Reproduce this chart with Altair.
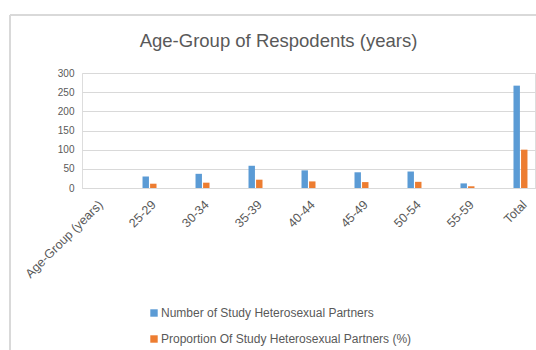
import altair as alt
import pandas as pd

categories = ["Age-Group (years)", "25-29", "30-34", "35-39", "40-44", "45-49", "50-54", "55-59", "Total"]
data_categories = ["25-29", "30-34", "35-39", "40-44", "45-49", "50-54", "55-59", "Total"]
number_partners = [30, 37, 58, 46, 41, 43, 12, 267]
proportion_partners = [11.2, 13.9, 21.7, 17.2, 15.4, 16.1, 4.5, 100]
series_names = ["Number of Study Heterosexual Partners", "Proportion Of Study Heterosexual Partners (%)"]
series_colors = ["#5B9BD5", "#ED7D31"]
y_ticks = [0, 50, 100, 150, 200, 250, 300]

rows = []
for c, n, p in zip(data_categories, number_partners, proportion_partners):
    rows.append({"cat": c, "series": series_names[0], "value": n})
    rows.append({"cat": c, "series": series_names[1], "value": p})
df = pd.DataFrame(rows)

FONT = "Liberation Sans"
GRAY = "#595959"
FRAME = "#d9d9d9"

bars = alt.Chart(df).mark_bar().encode(
    x=alt.X("cat:N", sort=categories,
            scale=alt.Scale(domain=categories, paddingInner=0.736, paddingOuter=0.142),
            axis=alt.Axis(title=None, labelAngle=-45, labelColor=GRAY, labelFont=FONT,
                          labelFontSize=12.5, ticks=False, domain=True, domainColor="#d9d9d9",
                          labelPadding=10, grid=False)),
    xOffset=alt.XOffset("series:N", sort=series_names,
                        scale=alt.Scale(paddingInner=0.15)),
    y=alt.Y("value:Q",
            scale=alt.Scale(domain=[0, 300], nice=False),
            axis=alt.Axis(title=None, values=y_ticks, labelColor=GRAY, labelFont=FONT,
                          labelFontSize=10, ticks=False, domain=False, labelPadding=8,
                          gridColor="#d9d9d9", gridWidth=1)),
    color=alt.Color("series:N", sort=series_names,
                    scale=alt.Scale(domain=series_names, range=series_colors),
                    legend=alt.Legend(title=None, orient="none", legendX=66, legendY=234,
                                      direction="vertical", symbolType="square",
                                      symbolSize=55, labelFont=FONT, labelFontSize=12,
                                      labelColor=GRAY, rowPadding=14, labelOffset=1,
                                      labelLimit=0, symbolStrokeWidth=0)),
)

frame_df = pd.DataFrame({"k": [0]})
frame_v = alt.Chart(frame_df).mark_rule(color=FRAME, strokeWidth=2).encode(
    x=alt.value(-72), y=alt.value(-58), y2=alt.value(280)
)
frame_h = alt.Chart(frame_df).mark_rule(color=FRAME, strokeWidth=2).encode(
    x=alt.value(-72), x2=alt.value(460), y=alt.value(-58)
)

chart = alt.layer(frame_v, frame_h, bars).properties(
    width=453,
    height=115,
    title=alt.Title("Age-Group of Respodents (years)", font=FONT, fontSize=18.5,
                    fontWeight="normal", color=GRAY, anchor="middle", dx=-30, offset=-36),
    autosize=alt.AutoSizeParams(type="none"),
    padding={"left": 82, "top": 73, "right": 1, "bottom": 162},
).configure_view(stroke=None).configure(background="white")

chart.save("out.html", embed_options={"renderer": "svg", "actions": False})
